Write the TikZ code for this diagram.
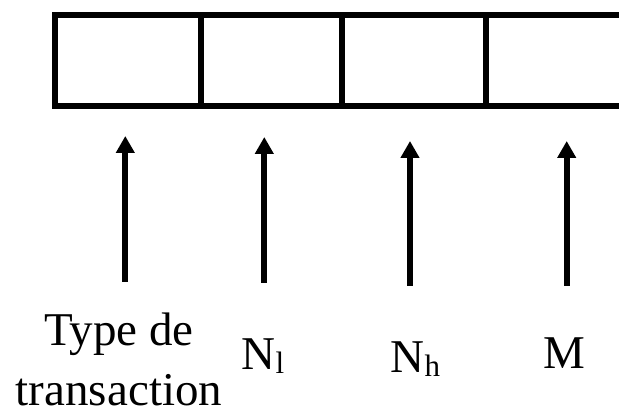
\documentclass[tikz,border=0pt]{standalone}
\usepackage{fontspec}
\usetikzlibrary{arrows.meta}
\newfontfamily\lblfont{Liberation Serif}
\newcommand{\lowsub}[1]{\raisebox{-4pt}{\fontsize{31}{31}\selectfont #1}}

\begin{document}
\begin{tikzpicture}[
    x=1pt, y=1pt,
    cell/.style={rectangle, draw, line width=6pt, inner sep=0pt, minimum height=91pt},
    uparrow/.style={-{Triangle[width=18pt,length=17pt]}, line width=6pt},
    lbl/.style={font=\lblfont\fontsize{47}{60}\selectfont, inner sep=0pt, align=center, anchor=base}
]
\useasboundingbox (0,0) rectangle (619,411);

% Record fields
\node[cell, minimum width=146pt] (c1) at (128, 350.5) {};
\node[cell, minimum width=141pt] (c2) at (271.5, 350.5) {};
\node[cell, minimum width=144pt] (c3) at (414, 350.5) {};
\node[cell, minimum width=214pt] (c4) at (593, 350.5) {};

% Labels
\node[lbl, text depth=0pt] (l1) at (119, 5) {Type de\\transaction};
\node[lbl] (l2) at (263, 41) {N\lowsub{l}};
\node[lbl] (l3) at (415.5, 38) {N\lowsub{h}};
\node[lbl] (l4) at (564, 42) {M};

% Arrow ends
\coordinate (b1) at (125.3, 129);
\coordinate (t1) at (125.3, 275);
\coordinate (b2) at (264.3, 128);
\coordinate (t2) at (264.3, 274);
\coordinate (b3) at (410, 125);
\coordinate (t3) at (410, 270);
\coordinate (b4) at (566.7, 125);
\coordinate (t4) at (566.7, 270);

% Arrows
\draw[uparrow] (b1) -- (t1);
\draw[uparrow] (b2) -- (t2);
\draw[uparrow] (b3) -- (t3);
\draw[uparrow] (b4) -- (t4);

\end{tikzpicture}
\end{document}
